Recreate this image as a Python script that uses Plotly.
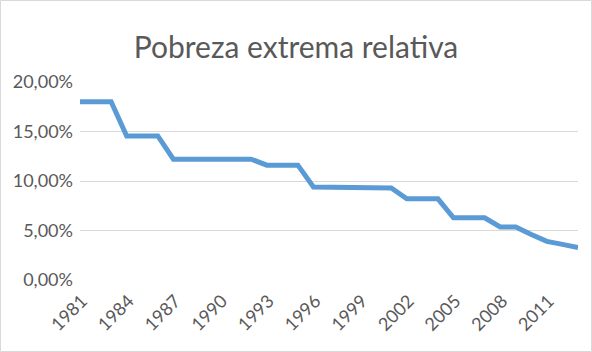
import plotly.graph_objects as go

years = list(range(1981, 2014))
pobreza_pct = [18.0, 18.0, 18.0, 14.55, 14.55, 14.55, 12.2, 12.2, 12.2, 12.2, 12.2, 12.2,
               11.6, 11.6, 11.6, 9.4, 9.4, 9.4, 9.3, 9.3, 9.3, 8.2, 8.2, 8.2,
               6.28, 6.28, 6.28, 5.36, 5.36, 4.6, 3.9, 3.6, 3.27]
x_tick_years = list(range(1981, 2012, 3))
y_tick_vals = [0, 0.05, 0.10, 0.15, 0.20]

W, H = 592, 352
ML, MR, MT, MB = 80, 14, 82, 72
PW, PH = W - ML - MR, H - MT - MB

fig = go.Figure()
fig.add_trace(go.Scatter(
    x=years, y=[v / 100 for v in pobreza_pct], mode="lines",
    line=dict(color="#5B9BD5", width=5), hoverinfo="skip"))

font_family = "Lato"
fig.update_layout(
    width=W, height=H,
    margin=dict(l=ML, r=MR, t=MT, b=MB),
    paper_bgcolor="white", plot_bgcolor="white",
    separators=",.",
    showlegend=False,
    title=dict(text="Pobreza extrema relativa", x=0.5, xanchor="center",
               y=1 - 47 / H, yanchor="middle",
               font=dict(family=font_family, size=30, color="#595959")),
    xaxis=dict(range=[1981, 2013], tickmode="array", tickvals=x_tick_years,
               ticktext=[str(y) for y in x_tick_years], tickangle=-45,
               ticklabelstandoff=6, ticklabelshift=2,
               showgrid=False, zeroline=False, showline=False, ticks="",
               tickfont=dict(family=font_family, size=18, color="#595959")),
    yaxis=dict(range=[0, 0.20], tickmode="array", tickvals=y_tick_vals,
               tickformat=".2%", showgrid=True, gridcolor="#D9D9D9", gridwidth=1,
               ticklabelstandoff=6,
               zeroline=False, showline=False, ticks="",
               tickfont=dict(family=font_family, size=18, color="#595959")),
    shapes=[dict(type="rect", xref="paper", yref="paper",
                 x0=(-ML + 0.5) / PW, x1=(W - ML - 0.5) / PW,
                 y0=(-MB + 0.5) / PH, y1=(H - MB - 0.5) / PH,
                 line=dict(color="#D9D9D9", width=1), layer="below")],
)

fig.write_html("out.html")
